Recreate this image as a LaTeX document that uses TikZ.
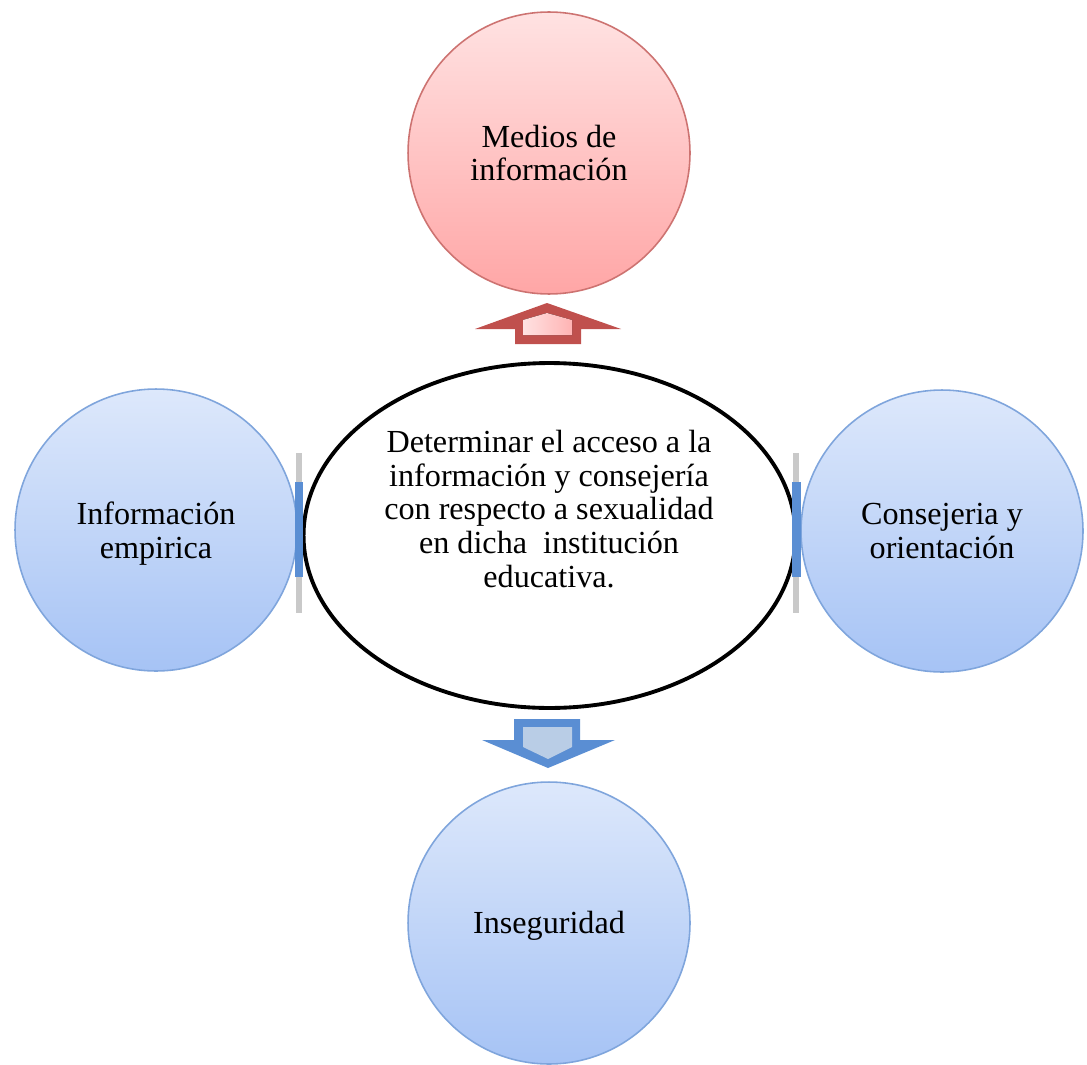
\documentclass[tikz,border=0pt]{standalone}
\usepackage{fontspec}
\setmainfont{Liberation Serif}
\usetikzlibrary{shapes.geometric}
\definecolor{roseline}{HTML}{C0504D}
\definecolor{rosetop}{HTML}{FFE2E2}
\definecolor{rosebot}{HTML}{FFA6A6}
\definecolor{bluetop}{HTML}{DDE8FB}
\definecolor{bluebot}{HTML}{A6C3F5}
\definecolor{blueline}{HTML}{7FA5DC}
\definecolor{arrowblue}{HTML}{5A8ED3}
\definecolor{arrowfill}{HTML}{B9CDE6}
\begin{document}
\begin{tikzpicture}[
      x=0.02cm, y=-0.02cm,
      every node/.style={font=\fontsize{18.3}{19.3}\selectfont, align=center},
      topic/.style={circle, minimum size=5.64cm, inner sep=0pt, draw=blueline,
        line width=0.9pt, top color=bluetop, bottom color=bluebot},
      media/.style={topic, draw=roseline!80, top color=rosetop, bottom color=rosebot},
      goal/.style={ellipse, minimum width=9.84cm, minimum height=6.9cm,
        draw=black, line width=2.2pt, fill=white},
      bar/.style={fill=arrowblue, draw=none},
      barshadow/.style={draw=black!30, line width=3.5pt, opacity=0.7}
    ]
      \useasboundingbox (0,0) rectangle (1087,1064);
      % outer topics
      \node[media] (medios) at (549,153) {Medios de\\ información};
      \node[topic] (empirica) at (156,530) {};
      \node (empiricatext) at (156,534) {Información\\ empirica};
      \node[topic] (consejo) at (942,531) {Consejeria y\\ orientación};
      \node[topic] (inseg) at (549,923) {};
      \node (insegtext) at (549,926) {Inseguridad};
      % central goal
      \node[goal] (goal) at (549.5,535.5) {};
      \node (goaltext) at (549,509) {Determinar el acceso a la\\ información y consejería\\
        con respecto a sexualidad\\ en dicha~ institución\\ educativa.};
      % side bars
      \draw[barshadow] (299,453) -- (299,613);
      \fill[bar] (295,482) rectangle (303,577);
      \draw[barshadow] (796,453) -- (796,613);
      \fill[bar] (792,482) rectangle (801,577);
      % up arrow
      \fill[roseline] (547,303) -- (475,329) -- (515,329) -- (515,344) -- (581,344)
        -- (581,329) -- (621,329) -- cycle;
      \fill[left color=rosetop, right color=rosebot!85]
        (523,320) -- (547,313) -- (572,320) -- (572,335) -- (523,335) -- cycle;
      % down arrow
      \fill[arrowblue] (514,719) -- (580,719) -- (580,740) -- (615,740) -- (548,768)
        -- (482,740) -- (514,740) -- cycle;
      \fill[arrowfill]
        (523,727) -- (572,727) -- (572,747) -- (548,759) -- (523,747) -- cycle;
    \end{tikzpicture}
\end{document}
